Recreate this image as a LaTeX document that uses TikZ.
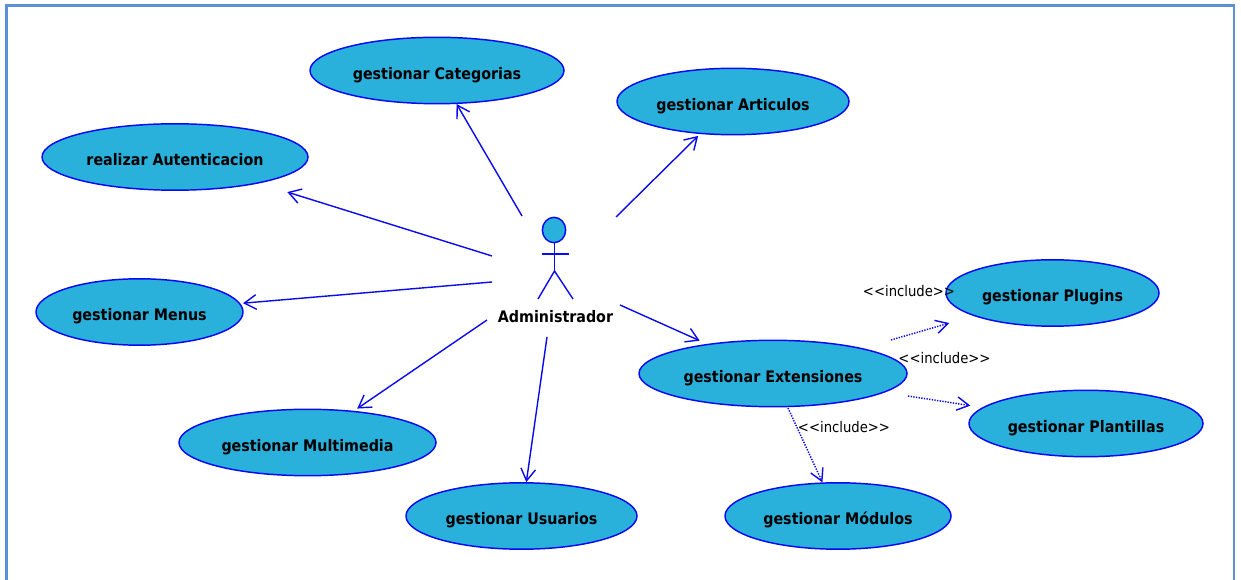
\documentclass[tikz,border=0pt]{standalone}
\usepackage{fontspec}
\setmainfont{DejaVu Sans Condensed}
\usetikzlibrary{shapes.geometric,arrows.meta}
\definecolor{ucfill}{RGB}{41,176,219}
\definecolor{ucline}{RGB}{10,10,240}
\definecolor{framecol}{RGB}{91,143,214}
\tikzset{
 x=0.75pt,y=-0.75pt,
 uc/.style={ellipse,draw=ucline,fill=ucfill,line width=1.1pt,inner sep=0pt,minimum height=49.8pt,minimum width=#1*0.75pt,text height=13pt,text depth=0pt,font=\bfseries\fontsize{11.9}{13}\selectfont,text=black},
 assoc/.style={draw=ucline,line width=1.05pt,-{Straight Barb[length=9pt,width=11pt,line width=1.05pt]}},
 incl/.style={draw=ucline,line width=1.1pt,dash pattern=on 1pt off 1pt,-{Straight Barb[length=9pt,width=10pt,line width=1.05pt]}},
 lab/.style={font=\fontsize{11}{12}\selectfont,text=black,inner sep=0pt},
 stick/.style={draw=ucline,line width=1.05pt},
}
\newcommand{\incltext}{<{}<include>{}>}
\begin{document}
\begin{tikzpicture}
\useasboundingbox (0,0) rectangle (1241,580);
\fill[white] (0,0) rectangle (1241,580);
\draw[framecol,line width=1.6pt] (6.5,585) -- (6.5,5.5) -- (1234,5.5) -- (1234,585);
% use cases
\node[uc=254] (cat) at (437,70.5) {gestionar Categorias};
\node[uc=232] (art) at (733,101.5) {gestionar Articulos};
\node[uc=266] (aut) at (175,157) {realizar Autenticacion};
\node[uc=207] (men) at (139.5,312) {gestionar Menus};
\node[uc=257] (mul) at (307.5,442.5) {gestionar Multimedia};
\node[uc=231] (usu) at (521.5,516) {gestionar Usuarios};
\node[uc=226] (mod) at (838,516) {gestionar Módulos};
\node[uc=268] (ext) at (773,373.5) {gestionar Extensiones};
\node[uc=213] (plu) at (1052.5,293) {gestionar Plugins};
\node[uc=234] (pla) at (1086,423.5) {gestionar Plantillas};
% actor
\node[ellipse,draw=ucline,fill=ucfill,line width=1.1pt,inner sep=0pt,minimum width=17.5pt,minimum height=19pt] (head) at (554,230) {};
\coordinate (neck) at (554.5,243);
\coordinate (hip) at (554.5,271);
\coordinate (armL) at (542,254);
\coordinate (armR) at (569,254);
\coordinate (legL) at (538,299);
\coordinate (legR) at (573,299);
\draw[stick] (neck) -- (hip);
\draw[stick] (armL) -- (armR);
\draw[stick] (legL) -- (hip) -- (legR);
\node[font=\bfseries\fontsize{11.9}{13}\selectfont,text=black,inner sep=0pt] (admin) at (555.5,317) {Administrador};
% free ends
\coordinate (fcat) at (522,216);
\coordinate (fart) at (616,217);
\coordinate (faut) at (492,256);
\coordinate (fmen) at (492,282);
\coordinate (fmul) at (487,320);
\coordinate (fusu) at (547,337);
\coordinate (fext) at (620,305);
\coordinate (iplu) at (891,340);
\coordinate (ipla) at (908,396);
\coordinate (imod) at (788,408);
\draw[assoc] (fcat) -- (cat);
\draw[assoc,shorten >=2pt] (fart) -- (art);
\draw[assoc,shorten >=22pt] (faut) -- (aut);
\draw[assoc,shorten >=2pt] (fmen) -- (men);
\draw[assoc,shorten >=3pt] (fmul) -- (mul);
\draw[assoc] (fusu) -- (usu);
\draw[assoc,shorten >=6pt] (fext) -- (ext);
\draw[incl,shorten >=19pt] (iplu) -- (plu);
\draw[incl,shorten >=9pt] (ipla) -- (pla);
\draw[incl] (imod) -- (mod);
% labels
\node[lab] (l1) at (909,291) {\incltext};
\node[lab] (l2) at (944.5,358) {\incltext};
\node[lab] (l3) at (844,427) {\incltext};
\end{tikzpicture}
\end{document}
